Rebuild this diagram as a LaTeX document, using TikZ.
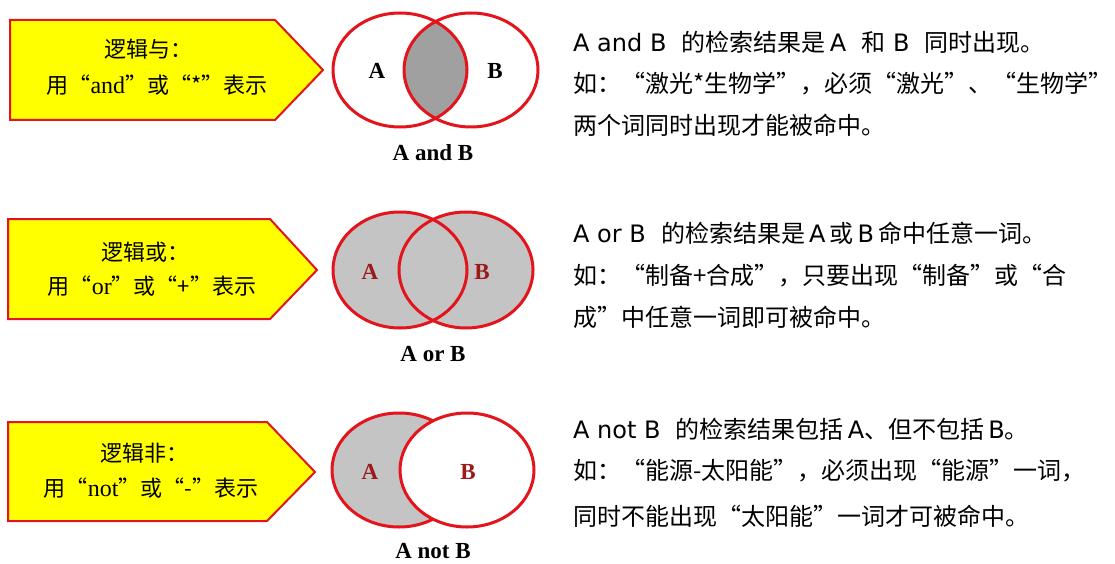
\documentclass[tikz,border=0pt]{standalone}
\usepackage{fontspec}
\setmainfont{Liberation Serif}
\newfontfamily\cjk{Noto Sans CJK SC}
\newfontfamily\lat{DejaVu Sans}
\usetikzlibrary{shapes.geometric}
\definecolor{vred}{HTML}{E3141C}
\definecolor{dkred}{HTML}{9B1B1B}
\definecolor{gA}{HTML}{A0A0A0}
\definecolor{gB}{HTML}{C4C4C4}
\definecolor{ylw}{HTML}{FFFF00}
\tikzset{
  arrowbox/.style={draw=vred, line width=2pt, fill=ylw, line join=miter},
  venn/.style={draw=vred, line width=3pt},
  lbl/.style={font=\fontsize{23}{23}\selectfont\bfseries, inner sep=0pt},
  venncaption/.style={font=\fontsize{23}{23}\selectfont\bfseries, inner sep=0pt},
  tagtext/.style={font=\cjk\fontsize{22}{22}\selectfont, inner sep=0pt, text height=19pt, text depth=3pt},
  desc/.style={anchor=west, inner sep=0pt, font=\cjk\fontsize{24}{24}\selectfont, text height=21pt, text depth=3pt},
}
\newcommand{\tms}[1]{{\rmfamily\fontsize{24}{24}\selectfont #1}}
\newcommand{\lt}[1]{{\lat #1}}
\begin{document}
\begin{tikzpicture}[x=1pt,y=-1pt]
\useasboundingbox (0,0) rectangle (1115,564);

% ---------- arrow boxes ----------
\draw[arrowbox] (10,20) -- (275,20) -- (323,70) -- (275,120) -- (10,120) -- cycle;
\draw[arrowbox] (8,219) -- (270,219) -- (317,270) -- (270,319) -- (8,319) -- cycle;
\draw[arrowbox] (8,422) -- (267,422) -- (315,472) -- (267,521) -- (8,521) -- cycle;

\node[tagtext] (t1a) at (148,50) {逻辑与：};
\node[tagtext] (t1b) at (157,86) {用“\tms{and}”或“*”表示};
\node[tagtext] (t2a) at (145,252) {逻辑或：};
\node[tagtext] (t2b) at (152,286) {用“\tms{or}”或“+”表示};
\node[tagtext] (t3a) at (144,453) {逻辑非：};
\node[tagtext] (t3b) at (151,488) {用“\tms{not}”或“-”表示};

% ---------- Venn 1: A and B ----------
\begin{scope}
  \clip (400,70) ellipse [x radius=67pt, y radius=57pt];
  \fill[gA] (471,70) ellipse [x radius=67pt, y radius=57pt];
\end{scope}
\draw[venn] (400,70) ellipse [x radius=67pt, y radius=57pt];
\draw[venn] (471,70) ellipse [x radius=67pt, y radius=57pt];
\node[lbl] (a1) at (377,71) {A};
\node[lbl] (b1) at (495,71) {B};
\node[venncaption] (c1) at (433,153) {A and B};

% ---------- Venn 2: A or B ----------
\fill[gB] (400,270) ellipse [x radius=67pt, y radius=58pt];
\fill[gB] (466,270) ellipse [x radius=67pt, y radius=58pt];
\draw[venn] (400,270) ellipse [x radius=67pt, y radius=58pt];
\draw[venn] (466,270) ellipse [x radius=67pt, y radius=58pt];
\node[lbl, text=dkred] (a2) at (370,272) {A};
\node[lbl, text=dkred] (b2) at (482,272) {B};
\node[venncaption] (c2) at (433,354) {A or B};

% ---------- Venn 3: A not B ----------
\fill[gB] (399,470) ellipse [x radius=67pt, y radius=57pt];
\draw[venn] (399,470) ellipse [x radius=67pt, y radius=57pt];
\fill[white] (467,470) ellipse [x radius=67pt, y radius=57pt];
\draw[venn] (467,470) ellipse [x radius=67pt, y radius=57pt];
\node[lbl, text=dkred] (a3) at (370,472) {A};
\node[lbl, text=dkred] (b3) at (468,472) {B};
\node[venncaption] (c3) at (433,551) {A not B};

% ---------- descriptions ----------
\node[desc] (d11) at (573,43) {\lt{A and B\ \ }的检索结果是\lt{\,A\ \ }和\lt{\ B\ \ }同时出现。};
\node[desc] (d12) at (573,84) {如：“激光*生物学”，必须“激光”、“生物学”};
\node[desc] (d13) at (573,126) {两个词同时出现才能被命中。};

\node[desc] (d21) at (573,233) {\lt{A or B\ \ }的检索结果是\lt{\,A\,}或\lt{\,B\,}命中任意一词。};
\node[desc] (d22) at (573,275) {如：“制备+合成”，只要出现“制备”或“合};
\node[desc] (d23) at (573,317) {成”中任意一词即可被命中。};

\node[desc] (d31) at (573,429) {\lt{A not B\ \ }的检索结果包括\lt{\,A}、但不包括\lt{\,B}。};
\node[desc] (d32) at (573,470) {如：“能源-太阳能”，必须出现“能源”一词，};
\node[desc] (d33) at (573,516) {同时不能出现“太阳能”一词才可被命中。};
\end{tikzpicture}
\end{document}
